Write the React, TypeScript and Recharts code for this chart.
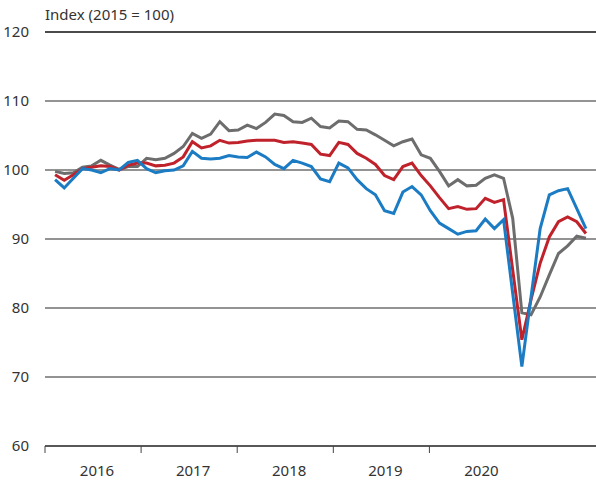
import React from "react"
import { LineChart, Line, XAxis, YAxis, CartesianGrid, ReferenceLine } from "recharts"

// monthly values, Jan 2016 .. Nov 2020
const blueSeries = [
  98.6, 97.4, 98.8, 100.2, 100.0, 99.6, 100.2, 100.0, 101.1, 101.4, 100.2, 99.6, 99.9,
  100.0, 100.6, 102.7, 101.7, 101.6, 101.7, 102.1, 101.9, 101.8, 102.6, 101.9, 100.8, 100.2,
  101.4, 101.0, 100.5, 98.7, 98.3, 101.0, 100.3, 98.6, 97.3, 96.4, 94.1, 93.7, 96.8, 97.6,
  96.4, 94.1, 92.3, 91.5, 90.7, 91.1, 91.2, 92.9, 91.5, 92.8, 82.1, 71.5, 81.6, 91.5, 96.4,
  97.0, 97.3, 94.4, 91.5,
]
const redSeries = [
  99.3, 98.5, 99.3, 100.2, 100.4, 100.6, 100.5, 100.0, 100.7, 101.0, 101.0, 100.6, 100.7,
  101.0, 101.9, 104.1, 103.2, 103.5, 104.3, 103.9, 104.0, 104.2, 104.3, 104.3, 104.3, 104.0,
  104.1, 103.9, 103.7, 102.3, 102.1, 104.0, 103.7, 102.4, 101.7, 100.8, 99.2, 98.6, 100.5,
  101.0, 99.2, 97.7, 96.0, 94.4, 94.7, 94.3, 94.4, 95.9, 95.3, 95.7, 85.5, 75.4, 81.2, 86.5,
  90.3, 92.5, 93.2, 92.5, 90.8,
]
const graySeries = [
  99.8, 99.5, 99.6, 100.4, 100.6, 101.4, 100.7, 100.1, 100.5, 100.5, 101.7, 101.5, 101.7,
  102.4, 103.4, 105.3, 104.6, 105.2, 107.0, 105.7, 105.8, 106.5, 106.0, 106.9, 108.1, 107.9,
  107.0, 106.9, 107.5, 106.3, 106.1, 107.1, 107.0, 105.9, 105.8, 105.1, 104.3, 103.5, 104.1,
  104.5, 102.2, 101.7, 99.8, 97.7, 98.6, 97.7, 97.8, 98.8, 99.3, 98.8, 93.0, 79.3, 79.0, 81.6,
  84.8, 87.9, 89.0, 90.4, 90.1,
]

const yearLabels = ["2016", "2017", "2018", "2019", "2020"]
// where the year ticks sit, in month-index units
const yearTicks = [-1.1, 9.4, 19.9, 30.4, 40.9]
const yTicks = [60, 70, 80, 90, 100, 110, 120]

const FONT = "'Noto Sans', sans-serif"
const TEXT = "#333333"

const data = blueSeries.map((b, i) => ({
  i,
  blue: b,
  red: redSeries[i],
  gray: graySeries[i],
}))

const YearTick = (props: any) => {
  const { x, y, payload, index } = props
  return (
    <g>
      <line x1={x} x2={x} y1={y - 8} y2={y - 1} stroke="#444" strokeWidth={1} />
      <text
        x={x + 52}
        y={y + 22}
        textAnchor="middle"
        fill={TEXT}
        fontSize={15}
        fontFamily={FONT}
      >
        {yearLabels[index] ?? payload.value}
      </text>
    </g>
  )
}

export default function App() {
  return (
    <div style={{ position: "absolute", left: 0, top: 0, width: 596, height: 486, background: "#fff" }}>
      <LineChart
        width={596}
        height={486}
        data={data}
        margin={{ top: 32, right: 0, bottom: 0, left: 0 }}
      >
        <CartesianGrid vertical={false} stroke="#6f6f6f" strokeWidth={1.3} />
        <XAxis
          type="number"
          dataKey="i"
          domain={[-1.1, 59.1]}
          allowDataOverflow
          ticks={yearTicks}
          tick={<YearTick />}
          tickLine={false}
          axisLine={{ stroke: "#444", strokeWidth: 1.5 }}
          height={40}
          interval={0}
        />
        <YAxis
          type="number"
          domain={[60, 120]}
          ticks={yTicks}
          width={45}
          axisLine={false}
          tickLine={false}
          tickSize={0}
          tickMargin={16}
          tick={{ fill: TEXT, fontSize: 15, fontFamily: FONT }}
        />
        <ReferenceLine y={120} stroke="#333" strokeWidth={1.5} />
        <Line type="linear" dataKey="gray" stroke="#6d6d6d" strokeWidth={3} dot={false} isAnimationActive={false} />
        <Line type="linear" dataKey="red" stroke="#c0222b" strokeWidth={3} dot={false} isAnimationActive={false} />
        <Line type="linear" dataKey="blue" stroke="#1b7cc4" strokeWidth={3} dot={false} isAnimationActive={false} />
      </LineChart>
      <div
        style={{
          position: "absolute",
          left: 45,
          top: 4,
          fontFamily: FONT,
          fontSize: 15,
          color: TEXT,
          whiteSpace: "nowrap",
        }}
      >
        Index (2015 = 100)
      </div>
    </div>
  )
}
